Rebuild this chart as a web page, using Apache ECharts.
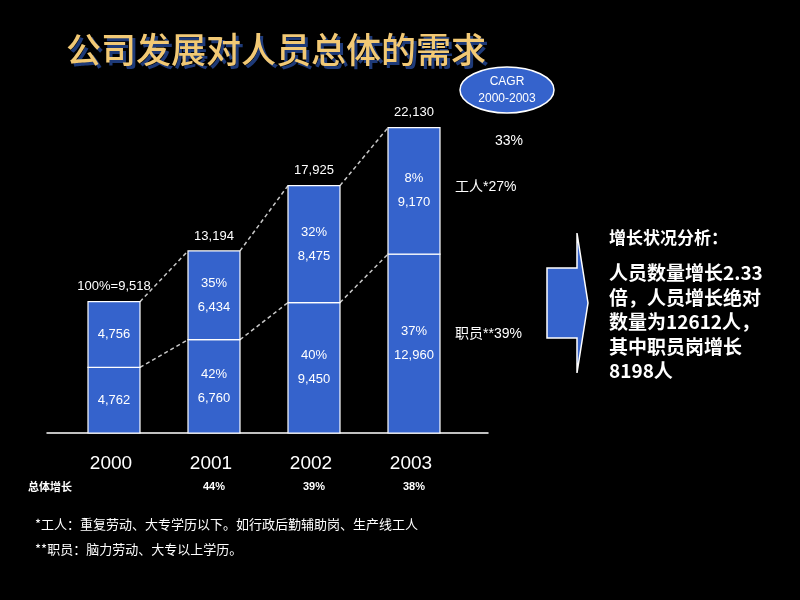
<!DOCTYPE html>
<html><head><meta charset="utf-8">
<script src="https://cdn.jsdelivr.net/npm/echarts@6/dist/echarts.min.js"></script>
<style>html,body{margin:0;padding:0;background:#000;}#c{width:800px;height:600px;}</style>
</head><body><div id="c"></div>
<script>
const years = ['2000', '2001', '2002', '2003'];
const staff = [4762, 6760, 9450, 12960];          // 职员 (lower)
const workers = [4756, 6434, 8475, 9170];         // 工人 (upper)
const staffPct = ['', '42%', '40%', '37%'];
const workerPct = ['', '35%', '32%', '8%'];
const totals = [9518, 13194, 17925, 22130];
const totalLabels = ['100%=9,518', '13,194', '17,925', '22,130'];
const growth = ['', '44%', '39%', '38%'];
const cagrTotal = '33%';
const cagrWorkers = '工人*27%';
const cagrStaff = '职员**39%';

const FONT = 'Liberation Sans, Arial, "Noto Sans CJK SC", sans-serif';
const CJK = '"Noto Sans CJK SC", sans-serif';
const BLUE = '#3563cc';
const fmt = v => v.toLocaleString('en-US');

const chart = echarts.init(document.getElementById('c'));
chart.setOption({
  backgroundColor: '#000',
  animation: false,
  grid: { left: 47, right: 312, top: 88, bottom: 167 },
  xAxis: {
    type: 'value', min: -0.67, max: 3.74,
    splitLine: { show: false },
    axisLine: { show: true, onZero: false, lineStyle: { color: '#ffffff', width: 1.5 } },
    axisTick: { show: false },
    axisLabel: {
      show: true, customValues: [0, 1, 2, 3], margin: 20,
      formatter: v => {
        const i = Math.round(v);
        return '{y|' + years[i] + '}\n{g|' + (growth[i] || ' ') + '}';
      },
      rich: {
        y: { color: '#fff', fontSize: 19, fontFamily: FONT, lineHeight: 22, padding: [0, 6, 0, 0] },
        g: { color: '#fff', fontSize: 11, fontWeight: 'bold', fontFamily: FONT, lineHeight: 24 }
      }
    }
  },
  yAxis: { type: 'value', min: 0, max: 25000, show: false, splitLine: { show: false } },
  series: [
    {
      type: 'custom', silent: true, z: 3,
      data: years.map((y, i) => [i, staff[i], staff[i] + workers[i]]),
      renderItem: (params, api) => {
        const i = api.value(0);
        const k = params.dataIndex;
        const base = api.coord([i, 0]);
        const s = api.coord([i, api.value(1)]);
        const t = api.coord([i, api.value(2)]);
        const w = api.size([0.52, 0])[0];
        const x0 = base[0] - w / 2;
        const rs = { fill: BLUE, stroke: '#fff', lineWidth: 1.2 };
        const lab = (pct, val, cy) => ({
          type: 'text', x: base[0], y: cy,
          style: { text: (pct ? pct + '\n' : '') + fmt(val), fill: '#fff', font: '13px ' + FONT,
            align: 'center', verticalAlign: 'middle', lineHeight: 24 }
        });
        return {
          type: 'group', children: [
            { type: 'rect', shape: { x: x0, y: s[1], width: w, height: base[1] - s[1] }, style: rs },
            { type: 'rect', shape: { x: x0, y: t[1], width: w, height: s[1] - t[1] }, style: rs },
            lab(staffPct[k], staff[k], (base[1] + s[1]) / 2),
            lab(workerPct[k], workers[k], (s[1] + t[1]) / 2),
            { type: 'text', x: base[0], y: t[1] - 15,
              style: { text: totalLabels[k], fill: '#fff', font: '13px ' + FONT, align: 'center', verticalAlign: 'middle' } }
          ]
        };
      }
    },
    {
      type: 'custom', silent: true, z: 2,
      data: [0, 1, 2].map(i => [i, totals[i], totals[i + 1], staff[i], staff[i + 1]]),
      renderItem: (params, api) => {
        const i = api.value(0);
        const a = api.coord([i + 0.26, api.value(1)]);
        const b = api.coord([i + 0.74, api.value(2)]);
        const c = api.coord([i + 0.26, api.value(3)]);
        const d = api.coord([i + 0.74, api.value(4)]);
        const st = { stroke: '#c8c8c8', lineWidth: 1.5, lineDash: [4, 3] };
        return {
          type: 'group', children: [
            { type: 'line', shape: { x1: a[0], y1: a[1], x2: b[0], y2: b[1] }, style: st },
            { type: 'line', shape: { x1: c[0], y1: c[1], x2: d[0], y2: d[1] }, style: st }
          ]
        };
      }
    }
  ],
  graphic: [
    { type: 'text', x: 69, y: 53, style: {
      text: '公司发展对人员总体的需求', font: '500 35px ' + CJK, fill: '#1e3a78', verticalAlign: 'middle' } },
    { type: 'text', x: 66, y: 50, style: {
      text: '公司发展对人员总体的需求', font: '500 35px ' + CJK, fill: '#f2c975', verticalAlign: 'middle' } },
    { type: 'ellipse', shape: { cx: 507, cy: 90, rx: 47, ry: 23 },
      style: { fill: BLUE, stroke: '#fff', lineWidth: 1.5 } },
    { type: 'text', x: 507, y: 90, style: { text: 'CAGR\n2000-2003', fill: '#fff', font: '12px ' + FONT,
      align: 'center', verticalAlign: 'middle', lineHeight: 17 } },
    { type: 'text', x: 495, y: 141, style: { text: cagrTotal, fill: '#fff', font: '14px ' + FONT, verticalAlign: 'middle' } },
    { type: 'text', x: 455, y: 187, style: { text: cagrWorkers, fill: '#fff', font: '14px ' + FONT, verticalAlign: 'middle' } },
    { type: 'text', x: 455, y: 334, style: { text: cagrStaff, fill: '#fff', font: '14px ' + FONT, verticalAlign: 'middle' } },
    { type: 'polygon', shape: { points: [[547, 268], [577, 268], [577, 233], [588, 303], [577, 373], [577, 338], [547, 338]] },
      style: { fill: BLUE, stroke: '#fff', lineWidth: 1.5 } },
    { type: 'text', x: 609, y: 238, style: { text: '增长状况分析：', fill: '#fff', font: 'bold 17px ' + CJK, verticalAlign: 'middle' } },
    { type: 'text', x: 609, y: 261, style: {
      text: '人员数量增长2.33\n倍，人员增长绝对\n数量为12612人，\n其中职员岗增长\n8198人',
      fill: '#fff', font: 'bold 19px ' + CJK, lineHeight: 24.5 } },
    { type: 'text', x: 28, y: 487, style: { text: '总体增长', fill: '#fff', font: 'bold 11px ' + CJK, verticalAlign: 'middle' } },
    { type: 'text', x: 35, y: 524, style: { text: '*工人：重复劳动、大专学历以下。如行政后勤辅助岗、生产线工人', fill: '#fff', font: '13px ' + CJK, verticalAlign: 'middle' } },
    { type: 'text', x: 35, y: 549, style: { text: '**职员：脑力劳动、大专以上学历。', fill: '#fff', font: '13px ' + CJK, verticalAlign: 'middle' } }
  ]
});
</script></body></html>
